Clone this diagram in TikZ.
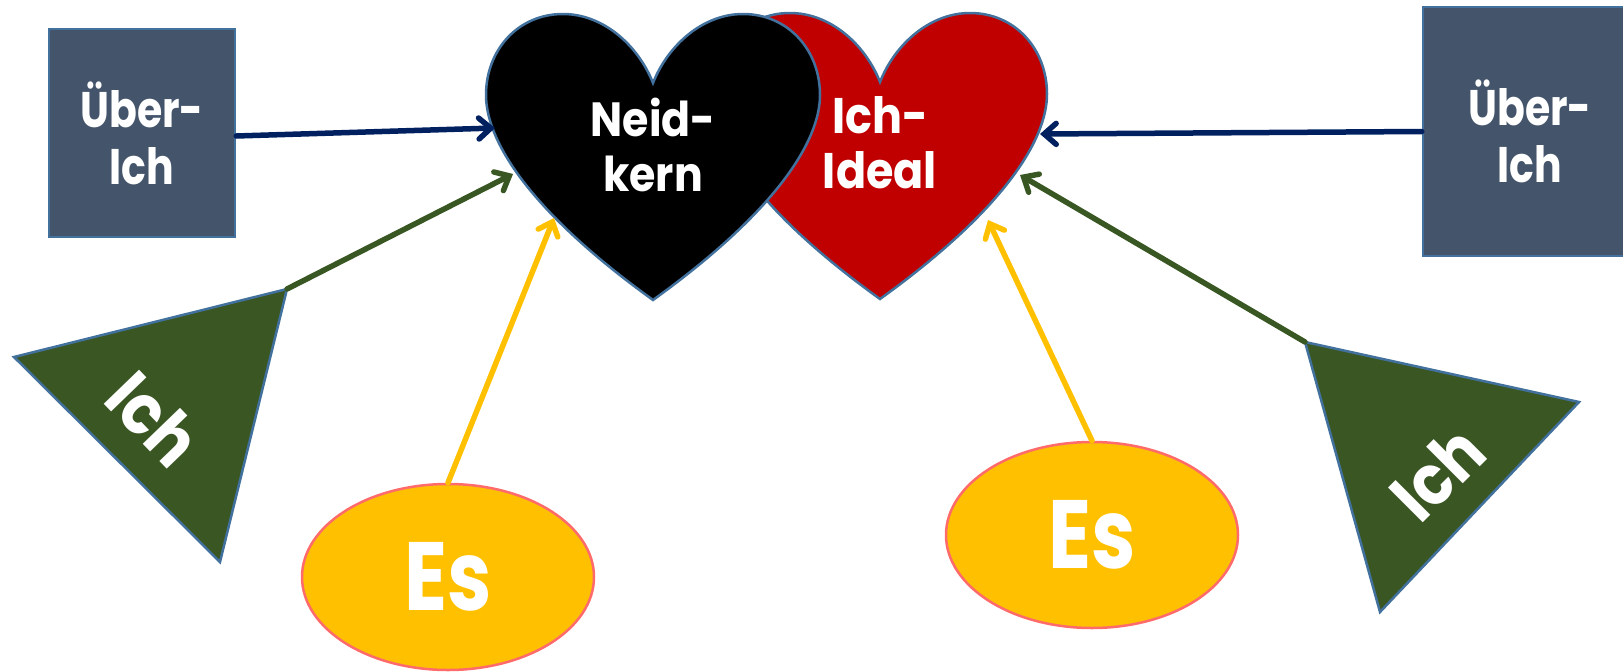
\documentclass[tikz,border=0pt]{standalone}
\usepackage{fontspec}
\setmainfont{Poppins}
\newfontfamily\pfnarrow{Poppins}[FakeStretch=0.82]
\newfontfamily\pfwide{Poppins}[FakeStretch=0.89]
\usetikzlibrary{arrows.meta,shapes.geometric}
\definecolor{boxfill}{HTML}{44546A}
\definecolor{outl}{HTML}{41719C}
\definecolor{trifill}{HTML}{3A5623}
\definecolor{heartred}{HTML}{C00000}
\definecolor{esfill}{HTML}{FFC000}
\definecolor{esline}{HTML}{FF6B6B}
\definecolor{navyblue}{HTML}{002060}
\definecolor{arrgreen}{HTML}{385723}
\begin{document}
\begin{tikzpicture}[x=1pt,y=-1pt,
  box/.style={draw=outl,line width=2.5pt,fill=boxfill,text=white,align=center,inner sep=0pt,
    font=\pfnarrow\bfseries\fontsize{50}{57}\selectfont},
  esnode/.style={ellipse,draw=esline,line width=2.5pt,fill=esfill,text=white,inner sep=0pt,
    minimum width=292pt,minimum height=186pt,font=\pfnarrow\bfseries\fontsize{97}{100}\selectfont},
  tri/.style={draw=outl,line width=2.5pt,fill=trifill,line join=miter},
  heartshape/.style={draw=outl,line width=2.5pt},
  hearttext/.style={text=white,align=center,inner sep=0pt,font=\pfwide\bfseries\fontsize{48}{55}\selectfont},
  tritext/.style={text=white,inner sep=0pt,font=\pfwide\bfseries\fontsize{70}{70}\selectfont},
  conn/.style={line width=5.5pt,line cap=round,-{Straight Barb[length=12pt,width=21pt,line cap=round]}},
]
\useasboundingbox (0,0) rectangle (1623,672);
\clip (0,0) rectangle (1623,672);

% Red heart (Ich-Ideal)
\begin{scope}[shift={(880,-1)}]
\path[heartshape,fill=heartred] (0,83) .. controls (15,45) and (50,14) .. (90,14)
  .. controls (135,14) and (167,50) .. (167,95)
  .. controls (167,140) and (125,210) .. (0,300)
  .. controls (-125,210) and (-167,140) .. (-167,95)
  .. controls (-167,50) and (-135,14) .. (-90,14)
  .. controls (-50,14) and (-15,45) .. (0,83) -- cycle;
\coordinate (ii-ub) at (160,135);
\coordinate (ii-ich) at (140,176);
\coordinate (ii-es) at (108,221);
\end{scope}

% Black heart (Neid-kern)
\begin{scope}[shift={(653,0)}]
\path[heartshape,fill=black] (0,83) .. controls (15,45) and (50,14) .. (90,14)
  .. controls (135,14) and (167,50) .. (167,95)
  .. controls (167,140) and (125,210) .. (0,300)
  .. controls (-125,210) and (-167,140) .. (-167,95)
  .. controls (-167,50) and (-135,14) .. (-90,14)
  .. controls (-50,14) and (-15,45) .. (0,83) -- cycle;
\coordinate (nk-ub) at (-158,128);
\coordinate (nk-ich) at (-140,174);
\coordinate (nk-es) at (-99,218);
\end{scope}

\node[hearttext] (neid) at (653,145) {Neid-\\kern};
\node[hearttext,font=\pfwide\bfseries\fontsize{50}{55}\selectfont] (ideal) at (880,143) {Ich-\\Ideal};

% Über-Ich boxes
\node[box,minimum width=186pt,minimum height=208pt] (ub1) at (142,133) {Über-\\Ich};
\node[box,minimum width=214pt,minimum height=249pt] (ub2) at (1530,131.5) {Über-\\Ich};

% Ich triangles
\coordinate (t1a) at (14,357);
\coordinate (t1b) at (287,289);
\coordinate (t1c) at (220,562);
\path[tri] (t1a) -- (t1b) -- (t1c) -- cycle;
\node[tritext,rotate=-46] (ich1) at (154,419) {Ich};

\coordinate (t2a) at (1305,342);
\coordinate (t2b) at (1579,402);
\coordinate (t2c) at (1380,612);
\path[tri] (t2a) -- (t2b) -- (t2c) -- cycle;
\node[tritext,rotate=45] (ich2) at (1437,473) {Ich};

% Es ellipses
\node[esnode] (es1) at (448,577) {Es};
\node[esnode] (es2) at (1092,535) {Es};

% connectors
\draw[conn,navyblue] ([yshift=-3pt]ub1.east) -- (nk-ub);
\draw[conn,navyblue] (ub2.west) -- (ii-ub);
\draw[conn,arrgreen] (t1b) -- (nk-ich);
\draw[conn,arrgreen] (t2a) -- (ii-ich);
\draw[conn,esfill] (es1.north) -- (nk-es);
\draw[conn,esfill] (es2.north) -- (ii-es);
\end{tikzpicture}
\end{document}
